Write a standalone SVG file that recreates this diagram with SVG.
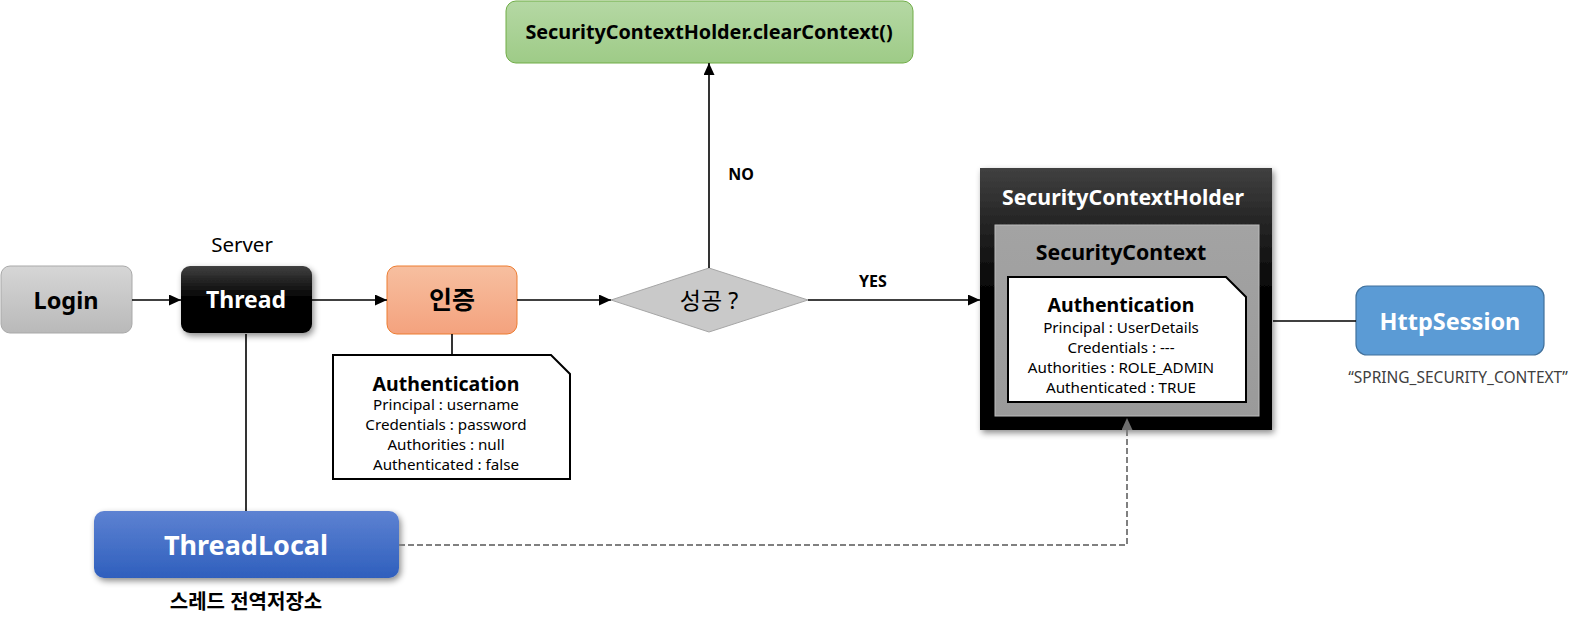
<svg xmlns="http://www.w3.org/2000/svg" width="1590" height="626" viewBox="0 0 1590 626">
<style>
text{font-family:"Noto Sans","Noto Sans CJK KR",sans-serif;text-anchor:middle}
.b{font-weight:bold}
.w{fill:#fff}
.d{font-size:15.2px;fill:#000}
.conn{fill:none;stroke:#000;stroke-width:1.6}
.dash{fill:none;stroke:#808080;stroke-width:2;stroke-dasharray:6 3}
.note{fill:#fff;stroke:#000;stroke-width:2}
</style>
<defs>
<linearGradient id="gLogin" x1="0" y1="0" x2="0" y2="1"><stop offset="0" stop-color="#d6d6d6"/><stop offset="1" stop-color="#b9b9b9"/></linearGradient>
<linearGradient id="gBlack" x1="0" y1="0" x2="0" y2="1"><stop offset="0" stop-color="#404040"/><stop offset="0.5" stop-color="#000"/><stop offset="1" stop-color="#000"/></linearGradient>
<linearGradient id="gOrange" x1="0" y1="0" x2="0" y2="1"><stop offset="0" stop-color="#f7bfa0"/><stop offset="1" stop-color="#f4a27e"/></linearGradient>
<linearGradient id="gGreen" x1="0" y1="0" x2="0" y2="1"><stop offset="0" stop-color="#b5d8a4"/><stop offset="1" stop-color="#9ecb87"/></linearGradient>
<linearGradient id="gBlue" x1="0" y1="0" x2="0" y2="1"><stop offset="0" stop-color="#5d82d2"/><stop offset="1" stop-color="#2f5fbd"/></linearGradient>
<linearGradient id="gGray" x1="0" y1="0" x2="0" y2="1"><stop offset="0" stop-color="#a3a3a3"/><stop offset="1" stop-color="#9a9a9a"/></linearGradient>
<filter id="sh" x="-10%" y="-10%" width="130%" height="140%"><feDropShadow dx="2" dy="3" stdDeviation="3" flood-color="#000" flood-opacity="0.45"/></filter>
<marker id="arr" markerUnits="userSpaceOnUse" markerWidth="12" markerHeight="11" refX="12" refY="5.5" orient="auto"><path d="M0,0 L12,5.5 L0,11 Z" fill="#000"/></marker>
<marker id="arrG" markerUnits="userSpaceOnUse" markerWidth="12" markerHeight="11" refX="12" refY="5.5" orient="auto"><path d="M0,0 L12,5.5 L0,11 Z" fill="#6e6e6e"/></marker>
</defs>

<g id="login">
<rect x="1" y="266" width="131" height="67" rx="9" fill="url(#gLogin)" stroke="#a9a9a9" stroke-width="1"/>
<text class="b" x="66" y="309" style="font-size:23.5px">Login</text>
</g>

<g id="thread">
<text x="242" y="252" style="font-size:20.5px;fill:#000">Server</text>
<rect x="181" y="266" width="131" height="67" rx="9" fill="url(#gBlack)" filter="url(#sh)"/>
<text class="b w" x="246" y="308" style="font-size:23px">Thread</text>
</g>

<g id="auth">
<rect x="387" y="266" width="130" height="68" rx="10" fill="url(#gOrange)" stroke="#ed7d31" stroke-width="1"/>
<text class="b" x="452" y="309" style="font-size:25px">인증</text>
</g>

<g id="authNote1">
<path class="note" d="M333,355 H551 L570,374 V479 H333 Z"/>
<text class="b" x="446" y="391" style="font-size:19.5px">Authentication</text>
<text class="d" x="446" y="410">Principal : username</text>
<text class="d" x="446" y="430">Credentials : password</text>
<text class="d" x="446" y="450">Authorities : null</text>
<text class="d" x="446" y="470">Authenticated : false</text>
</g>

<g id="decision">
<polygon points="611,300 709,268 808,300 709,332" fill="#c9c9c9" stroke="#a6a6a6" stroke-width="1"/>
<text x="709" y="309" style="font-size:23px;fill:#000">성공 ?</text>
</g>

<g id="clear">
<rect x="506" y="1" width="407" height="62" rx="10" fill="url(#gGreen)" stroke="#70ad47" stroke-width="1"/>
<text class="b" x="709" y="39" style="font-size:19.8px">SecurityContextHolder.clearContext()</text>
</g>

<g id="holder">
<rect x="980" y="168" width="292" height="262" fill="url(#gBlack)" filter="url(#sh)"/>
<text class="b w" x="1123" y="205" style="font-size:21.3px">SecurityContextHolder</text>
<rect x="995" y="225" width="264" height="191" fill="url(#gGray)" stroke="#bdbdbd" stroke-width="1"/>
<text class="b" x="1121" y="260" style="font-size:21.3px">SecurityContext</text>
<path class="note" d="M1008,277 H1226 L1246,297 V402 H1008 Z"/>
<text class="b" x="1121" y="312" style="font-size:19.5px">Authentication</text>
<text class="d" x="1121" y="333">Principal : UserDetails</text>
<text class="d" x="1121" y="353">Credentials : ---</text>
<text class="d" x="1121" y="373">Authorities : ROLE_ADMIN</text>
<text class="d" x="1121" y="393">Authenticated : TRUE</text>
</g>

<g id="session">
<rect x="1356" y="286" width="188" height="69" rx="11" fill="#5b9bd5" stroke="#41719c" stroke-width="1.2"/>
<text class="b w" x="1450" y="330" style="font-size:23.5px">HttpSession</text>
<text x="1458" y="383" style="font-size:15.5px;fill:#404040">“SPRING_SECURITY_CONTEXT”</text>
</g>

<g id="threadLocal">
<rect x="94" y="511" width="305" height="67" rx="10" fill="url(#gBlue)" filter="url(#sh)"/>
<text class="b w" x="246" y="555" style="font-size:27px">ThreadLocal</text>
<text class="b" x="246" y="609" style="font-size:20px">스레드 전역저장소</text>
</g>

<g id="connectors">
<line class="conn" x1="132" y1="300" x2="181" y2="300" marker-end="url(#arr)"/>
<line class="conn" x1="312" y1="300" x2="387" y2="300" marker-end="url(#arr)"/>
<line class="conn" x1="517" y1="300" x2="611" y2="300" marker-end="url(#arr)"/>
<line class="conn" x1="709" y1="268" x2="709" y2="63" marker-end="url(#arr)"/>
<line class="conn" x1="808" y1="300" x2="980" y2="300" marker-end="url(#arr)"/>
<line class="conn" x1="246" y1="334" x2="246" y2="511"/>
<line class="conn" x1="452" y1="334" x2="452" y2="354"/>
<line class="conn" x1="1273" y1="321" x2="1356" y2="321"/>
<polyline class="dash" points="399,545 1127,545 1127,418" marker-end="url(#arrG)"/>
<text class="b" x="741" y="180" style="font-size:16px">NO</text>
<text class="b" x="873" y="287" style="font-size:16px">YES</text>
</g>
</svg>
